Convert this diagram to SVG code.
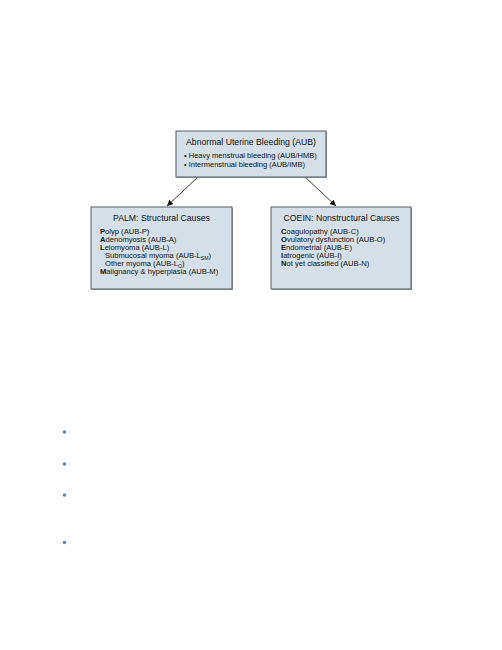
<svg xmlns="http://www.w3.org/2000/svg" width="502" height="650" viewBox="0 0 502 650">
<defs>
<style>
.box{fill:#d4dfe7;stroke:#565b61;stroke-width:1}
.sh{fill:#9aa0a6}
text{font-family:"Liberation Sans",Arial,sans-serif;fill:#111}
.t{font-size:8.7px;text-anchor:middle}
.b{font-size:7.5px}
.i{font-size:7.6px}
.k{font-weight:bold}
.c{stroke:#222;stroke-width:0.9;fill:none}
.dot{fill:#5b8db8}
</style>
<marker id="ah" markerWidth="8" markerHeight="8" refX="6" refY="3" orient="auto" markerUnits="userSpaceOnUse">
<path d="M0,0 L6,3 L0,6 z" fill="#111"/>
</marker>
</defs>
<rect width="502" height="650" fill="#fff"/>
<g id="connectors">
<line class="c" x1="198" y1="177" x2="167" y2="206" marker-end="url(#ah)"/>
<line class="c" x1="305" y1="177" x2="336" y2="206" marker-end="url(#ah)"/>
</g>
<g id="aub">
<rect class="sh" x="177" y="132" width="150" height="46"/>
<rect class="box" x="176" y="131" width="150" height="46"/>
<text class="t" x="251" y="145">Abnormal Uterine Bleeding (AUB)</text>
<text class="b" x="184" y="158">• Heavy menstrual bleeding (AUB/HMB)</text>
<text class="b" x="184" y="166.5">• Intermenstrual bleeding (AUB/IMB)</text>
</g>
<g id="palm">
<rect class="sh" x="92" y="208" width="141" height="82"/>
<rect class="box" x="91" y="207" width="141" height="82"/>
<text class="t" x="161.5" y="221">PALM: Structural Causes</text>
<text class="i" x="100" y="234"><tspan class="k">P</tspan>olyp (AUB-P)</text>
<text class="i" x="100" y="242"><tspan class="k">A</tspan>denomyosis (AUB-A)</text>
<text class="i" x="100" y="250"><tspan class="k">L</tspan>eiomyoma (AUB-L)</text>
<text class="i" x="105" y="258">Submucosal myoma (AUB-L<tspan font-size="5.2" dy="1.5">SM</tspan><tspan dy="-1.5">)</tspan></text>
<text class="i" x="105" y="266">Other myoma (AUB-L<tspan font-size="5.2" dy="1.5">O</tspan><tspan dy="-1.5">)</tspan></text>
<text class="i" x="100" y="274"><tspan class="k">M</tspan>alignancy &amp; hyperplasia (AUB-M)</text>
</g>
<g id="coein">
<rect class="sh" x="272" y="208" width="140" height="82"/>
<rect class="box" x="271" y="207" width="140" height="82"/>
<text class="t" x="341.5" y="221">COEIN: Nonstructural Causes</text>
<text class="i" x="281" y="234"><tspan class="k">C</tspan>oagulopathy (AUB-C)</text>
<text class="i" x="281" y="242"><tspan class="k">O</tspan>vulatory dysfunction (AUB-O)</text>
<text class="i" x="281" y="250"><tspan class="k">E</tspan>ndometrial (AUB-E)</text>
<text class="i" x="281" y="258"><tspan class="k">I</tspan>atrogenic (AUB-I)</text>
<text class="i" x="281" y="266"><tspan class="k">N</tspan>ot yet classified (AUB-N)</text>
</g>
<g id="bullets">
<circle class="dot" cx="64.5" cy="432" r="1.8"/>
<circle class="dot" cx="64.5" cy="464" r="1.8"/>
<circle class="dot" cx="64.5" cy="495" r="1.8"/>
<circle class="dot" cx="64.5" cy="542.5" r="1.8"/>
</g>
</svg>
